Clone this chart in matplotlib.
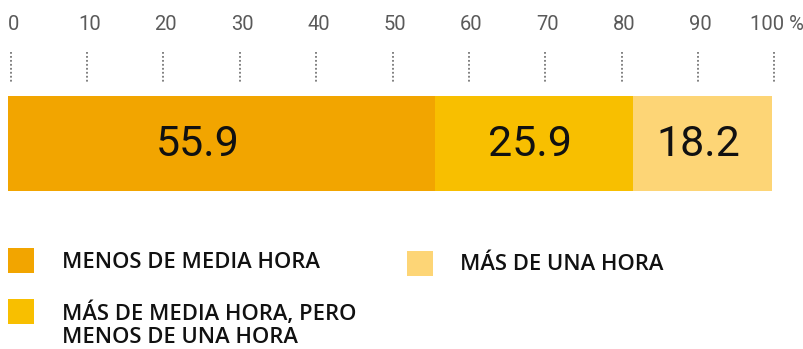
import matplotlib
matplotlib.use("Agg")
import matplotlib.pyplot as plt
from matplotlib.patches import Rectangle

# Shares of the total (percent), one stacked bar
categories = ["MENOS DE MEDIA HORA",
              "MÁS DE MEDIA HORA, PERO\nMENOS DE UNA HORA",
              "MÁS DE UNA HORA"]
values = [55.9, 25.9, 18.2]
value_labels = ["55.9", "25.9", "18.2"]
tick_values = [0, 10, 20, 30, 40, 50, 60, 70, 80, 90, 100]
tick_labels = ["0", "10", "20", "30", "40", "50", "60", "70", "80", "90", "100 %"]

colors = ["#F2A500", "#F8BF00", "#FDD576"]
W, H = 804, 349

fig = plt.figure(figsize=(W / 100, H / 100), dpi=100)

# Main axes: x in percent, y in pixel rows (top-down)
x0_px, px_per_pct = 8.5, 7.635
ax = fig.add_axes([0, 0, 1, 1])
ax.set_xlim(-x0_px / px_per_pct, (W - x0_px) / px_per_pct)
ax.set_ylim(H, 0)
ax.axis("off")

num_font = ["Roboto", "DejaVu Sans"]

# Stacked bar
left = 0.0
label_shift = [-3.2, -0.6, -0.6]
for v, c, lab, sh in zip(values, colors, value_labels, label_shift):
    ax.barh(143.5, v, left=left, height=95, color=c, edgecolor="none")
    ax.text(left + v / 2 + sh, 144, lab, ha="center", va="center",
            fontsize=31, family=num_font, color="#111111")
    left += v

# Scale on top: labels and dotted guide lines
for t, lab in zip(tick_values, tick_labels):
    ax.vlines(t + 0.3, 52, 82, colors="#777777", linestyles=(0, (1, 1.2)),
              linewidth=1.3)
    ax.text(t + 0.6, 25, lab, ha="center", va="center", fontsize=14.5,
            family=num_font, fontweight="normal", color="#5a5a5a")

# Legend drawn in pixel coordinates
lg = fig.add_axes([0, 0, 1, 1])
lg.set_xlim(0, W)
lg.set_ylim(H, 0)
lg.axis("off")
legend_pos = [(8, 248, 62, 262), (8, 299, 62, 325), (407, 251, 460, 264)]
for (sx, sy, tx, ty), c, name in zip(legend_pos, colors, categories):
    lg.add_patch(Rectangle((sx, sy), 26, 25, color=c, lw=0))
    lg.text(tx, ty, name, ha="left", va="center", fontsize=15.8,
            family=["Open Sans", "DejaVu Sans"], fontweight="semibold",
            color="#111111", linespacing=1.15)

fig.savefig("out.png", dpi=100)
